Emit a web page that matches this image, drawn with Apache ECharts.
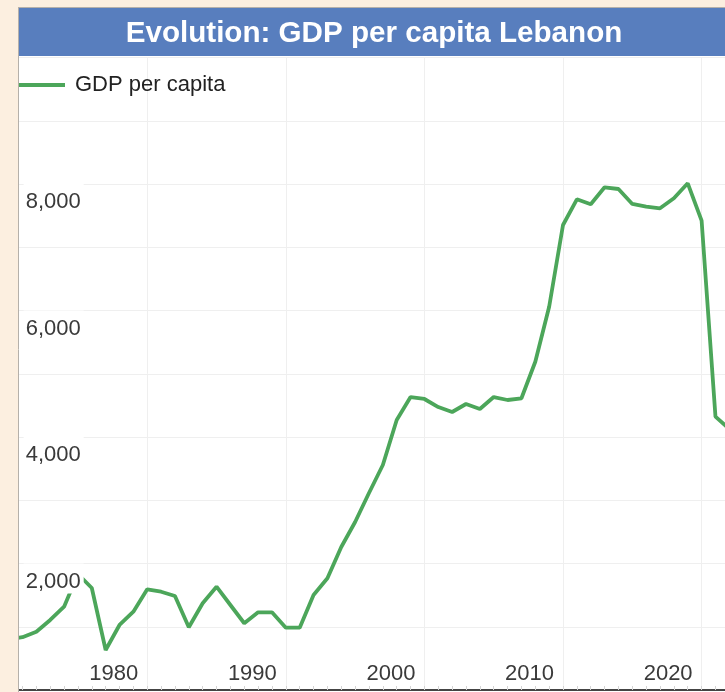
<!DOCTYPE html>
<html>
<head>
<meta charset="utf-8">
<script src="https://cdn.jsdelivr.net/npm/echarts@6/dist/echarts.min.js"></script>
<style>
html, body { margin: 0; padding: 0; background: #fcefe0; overflow: hidden; width: 725px; height: 692px; }
#panel { position: absolute; left: 18px; top: 8px; width: 720px; height: 700px; background: #fff; }
#chart { position: absolute; left: 0; top: 0; width: 850px; height: 692px; }
</style>
</head>
<body>
<div id="panel"></div>
<div id="chart"></div>
<script>
// yearly GDP per capita (US$)
const years = [1970, 1971, 1972, 1973, 1974, 1975, 1976, 1977, 1978, 1979,
  1980, 1981, 1982, 1983, 1984, 1985, 1986, 1987, 1988, 1989,
  1990, 1991, 1992, 1993, 1994, 1995, 1996, 1997, 1998, 1999,
  2000, 2001, 2002, 2003, 2004, 2005, 2006, 2007, 2008, 2009,
  2010, 2011, 2012, 2013, 2014, 2015, 2016, 2017, 2018, 2019,
  2020, 2021, 2022]
const gdpPerCapita = [800, 835, 922, 1107, 1317, 1834, 1613, 632, 1028, 1238,
  1592, 1554, 1486, 991, 1371, 1633, 1344, 1055, 1228, 1228,
  985, 985, 1502, 1766, 2261, 2656, 3115, 3557, 4269, 4632,
  4601, 4474, 4395, 4522, 4443, 4632, 4585, 4612, 5190, 6060,
  7352, 7758, 7679, 7948, 7921, 7684, 7641, 7616, 7774, 8011,
  7420, 4321, 4127]
const seriesName = 'GDP per capita'
const titleText = 'Evolution: GDP per capita Lebanon'

const font = 'Liberation Sans, Arial, Helvetica, sans-serif'
const green = '#4ca65a'

const chart = echarts.init(document.getElementById('chart'))

let option = {
    animation: false,
    backgroundColor: 'transparent',
    title: {
        text: titleText,
        left: 369,
        top: 14,
        textAlign: 'center',
        z: 200,
        textStyle: {color: '#fff', fontSize: 29.6, fontWeight: 'bold', fontFamily: font}
    },
    graphic: [
        {type: 'rect', z: 100, shape: {x: 0, y: 0, width: 18, height: 692}, style: {fill: '#fcefe0'}},
        {type: 'rect', z: 100, shape: {x: 0, y: 0, width: 850, height: 7}, style: {fill: '#fcefe0'}},
        {type: 'rect', z: 101, shape: {x: 18, y: 8, width: 832, height: 48}, style: {fill: '#587ebe'}},
        {type: 'line', z: 102, shape: {x1: 18.5, y1: 7, x2: 18.5, y2: 692}, style: {stroke: '#b5b0aa', lineWidth: 1}},
        {type: 'line', z: 102, shape: {x1: 18, y1: 7.5, x2: 850, y2: 7.5}, style: {stroke: '#b5b0aa', lineWidth: 1}}
    ],
    legend: {
        data: [seriesName],
        left: 19,
        top: 74,
        padding: 0,
        icon: 'rect',
        itemWidth: 46,
        itemHeight: 4,
        textStyle: {color: '#222', fontSize: 22, fontFamily: font, padding: [0, 0, 0, 5]}
    },
    grid: {left: 8.64, right: 9.8, top: 57.5, bottom: 2, containLabel: false},
    xAxis: {
        type: 'value',
        min: 1970,
        max: 2030,
        interval: 10,
        axisLine: {show: true, lineStyle: {color: '#444', width: 2}},
        axisTick: {show: true, inside: true, length: 4, lineStyle: {color: '#d5d5d5'}},
        minorTick: {show: true, splitNumber: 10, length: 4, lineStyle: {color: '#d5d5d5'}},
        splitLine: {show: true, lineStyle: {color: '#efefef', width: 1}},
        axisLabel: {
            inside: true,
            align: 'right',
            margin: 5,
            padding: [0, 9, 0, 0],
            showMinLabel: false,
            showMaxLabel: false,
            color: '#3a3a3a',
            fontSize: 22,
            fontFamily: font,
            formatter: v => String(v)
        }
    },
    yAxis: [
        {
            type: 'value',
            position: 'left',
            min: 0,
            max: 10000,
            interval: 1000,
            axisLine: {show: false},
            axisTick: {show: false},
            axisLabel: {show: false},
            splitLine: {show: true, lineStyle: {color: '#efefef', width: 1}}
        },
        {
            type: 'value',
            position: 'left',
            min: 0,
            max: 10000,
            interval: 2000,
            z: 10,
            axisLine: {show: false},
            axisTick: {show: false},
            splitLine: {show: false},
            axisLabel: {
                inside: true,
                margin: 15,
                verticalAlign: 'top',
                showMinLabel: false,
                showMaxLabel: false,
                color: '#3a3a3a',
                fontSize: 22,
                fontFamily: font,
                backgroundColor: '#fff',
                padding: [7, 3, 1, 2],
                formatter: v => v.toLocaleString('en-US')
            }
        }
    ],
    series: [{
        name: seriesName,
        type: 'line',
        yAxisIndex: 0,
        data: years.map((y, i) => [y, gdpPerCapita[i]]),
        symbol: 'none',
        showSymbol: false,
        clip: true,
        lineStyle: {color: green, width: 3.8},
        itemStyle: {color: green}
    }]
}

chart.setOption(option)
</script>
</body>
</html>
